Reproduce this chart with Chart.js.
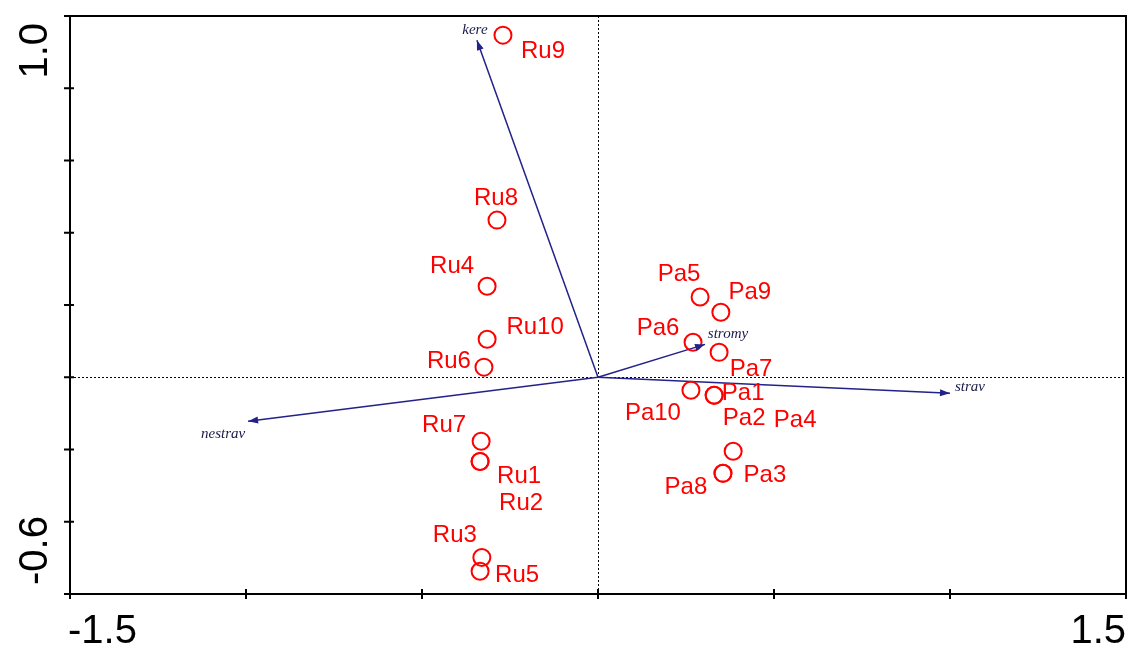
<!DOCTYPE html>
<html>
<head>
<meta charset="utf-8">
<script src="https://cdn.jsdelivr.net/npm/chart.js@4.4.1/dist/chart.umd.min.js"></script>
<style>
  html, body { margin: 0; padding: 0; background: #fff; }
  #chart { display: block; }
</style>
</head>
<body>
<canvas id="chart" width="1129" height="646"></canvas>
<script>
// ─── Data ────────────────────────────────────────────────────────────────────
const ruNames = ['Ru1', 'Ru2', 'Ru3', 'Ru4', 'Ru5', 'Ru6', 'Ru7', 'Ru8', 'Ru9', 'Ru10'];
const ruX     = [-0.335, -0.335, -0.330, -0.315, -0.335, -0.324, -0.332, -0.287, -0.270, -0.315];
const ruY     = [-0.233, -0.233, -0.499,  0.252, -0.537,  0.028, -0.177,  0.435,  0.947,  0.105];

const paNames = ['Pa1', 'Pa2', 'Pa3', 'Pa4', 'Pa5', 'Pa6', 'Pa7', 'Pa8', 'Pa9', 'Pa10'];
const paX     = [0.330, 0.330, 0.355, 0.384, 0.290, 0.270, 0.344, 0.355, 0.349, 0.264];
const paY     = [-0.050, -0.050, -0.266, -0.205, 0.222, 0.097, 0.069, -0.266, 0.180, -0.036];

const envNames = ['kere', 'stromy', 'strav', 'nestrav'];
const envX     = [-0.344, 0.304, 1.000, -0.994];
const envY     = [ 0.933, 0.091, -0.044, -0.122];

const xTickLabels = ['-1.5', '1.5'];
const yTickLabels = ['1.0', '-0.6'];

// label placement (pixel offsets from the marker, label centre)
const ruLabelOffsets  = [[39, 13], [41, 40], [-27, -24], [-35, -22], [37, 2], [-35, -8], [-37, -18], [-1, -24], [40, 14], [48, -14]];
const paLabelOffsets  = [[29, -4], [30, 21], [42, 0], [62, -33], [-21, -25], [-35, -16], [32, 15], [-37, 12], [29, -22], [-38, 21]];
const envLabelOffsets = [[-2, -10], [23, -10], [20, -6], [-25, 13]];

const RED  = '#ff0000';
const NAVY = '#22228a';

// ─── Datasets ────────────────────────────────────────────────────────────────
const toPoints = (xs, ys) => xs.map((x, i) => ({ x, y: ys[i] }));

const pointStyle = {
  pointStyle: 'circle',
  pointRadius: 8.5,
  pointBorderWidth: 2,
  pointBorderColor: RED,
  pointBackgroundColor: 'rgba(0,0,0,0)',
  showLine: false,
};

const datasets = [
  { label: 'Ru', data: toPoints(ruX, ruY), ...pointStyle },
  { label: 'Pa', data: toPoints(paX, paY), ...pointStyle },
  ...envNames.map((n, i) => ({
    label: n,
    data: [{ x: 0, y: 0 }, { x: envX[i], y: envY[i] }],
    showLine: true,
    borderColor: NAVY,
    borderWidth: 1.5,
    pointRadius: 0,
  })),
];

// ─── Decorations: frame, ticks, arrow heads, labels ──────────────────────────
const isZero = ctx => ctx.tick && Math.abs(ctx.tick.value) < 1e-9;

const ordination = {
  id: 'ordination',
  afterDraw(chart) {
    const { ctx, chartArea: a, scales: { x, y } } = chart;
    ctx.save();

    // arrow heads + environmental labels
    envNames.forEach((n, i) => {
      const x0 = x.getPixelForValue(0), y0 = y.getPixelForValue(0);
      const x1 = x.getPixelForValue(envX[i]), y1 = y.getPixelForValue(envY[i]);
      const ang = Math.atan2(y1 - y0, x1 - x0);
      const len = 10, hw = 3.5;
      ctx.fillStyle = NAVY;
      ctx.beginPath();
      ctx.moveTo(x1, y1);
      ctx.lineTo(x1 - len * Math.cos(ang) + hw * Math.sin(ang), y1 - len * Math.sin(ang) - hw * Math.cos(ang));
      ctx.lineTo(x1 - len * Math.cos(ang) - hw * Math.sin(ang), y1 - len * Math.sin(ang) + hw * Math.cos(ang));
      ctx.closePath();
      ctx.fill();

      ctx.fillStyle = '#1a1a48';
      ctx.font = 'italic 15px "Liberation Serif", serif';
      ctx.textAlign = 'center';
      ctx.textBaseline = 'middle';
      ctx.fillText(n, x1 + envLabelOffsets[i][0], y1 + envLabelOffsets[i][1]);
    });

    // sample labels
    ctx.fillStyle = RED;
    ctx.font = '24px "Liberation Sans", Arial, sans-serif';
    ctx.textAlign = 'center';
    ctx.textBaseline = 'alphabetic';
    const drawNames = (names, xs, ys, offs) => names.forEach((n, i) => {
      const px = x.getPixelForValue(xs[i]), py = y.getPixelForValue(ys[i]);
      ctx.fillText(n, px + offs[i][0], py + offs[i][1] + 8.5);
    });
    drawNames(ruNames, ruX, ruY, ruLabelOffsets);
    drawNames(paNames, paX, paY, paLabelOffsets);

    // frame
    ctx.strokeStyle = '#000';
    ctx.lineWidth = 2;
    ctx.strokeRect(a.left, a.top, a.right - a.left, a.bottom - a.top);

    // crossing tick marks on left and bottom
    ctx.lineWidth = 2;
    ctx.beginPath();
    x.ticks.forEach(t => {
      const px = x.getPixelForValue(t.value);
      ctx.moveTo(px, a.bottom - 5);
      ctx.lineTo(px, a.bottom + 5);
    });
    y.ticks.forEach(t => {
      const py = y.getPixelForValue(t.value);
      ctx.moveTo(a.left - 6, py);
      ctx.lineTo(a.left + 4, py);
    });
    ctx.stroke();

    // axis end labels
    ctx.fillStyle = '#000';
    ctx.font = '40px "Liberation Sans", Arial, sans-serif';
    ctx.textBaseline = 'alphabetic';
    ctx.textAlign = 'left';
    ctx.fillText(xTickLabels[0], a.left - 2, a.bottom + 49);
    ctx.textAlign = 'right';
    ctx.fillText(xTickLabels[1], a.right, a.bottom + 49);

    ctx.save();
    ctx.translate(47, y.getPixelForValue(1.0) + 7);
    ctx.rotate(-Math.PI / 2);
    ctx.textAlign = 'right';
    ctx.fillText(yTickLabels[0], 0, 0);
    ctx.restore();

    ctx.save();
    ctx.translate(47, y.getPixelForValue(-0.6) - 9);
    ctx.rotate(-Math.PI / 2);
    ctx.textAlign = 'left';
    ctx.fillText(yTickLabels[1], 0, 0);
    ctx.restore();

    ctx.restore();
  },
};

// ─── Chart ───────────────────────────────────────────────────────────────────
const zeroGrid = {
  drawTicks: false,
  lineWidth: 1,
  color: c => isZero(c) ? '#000' : 'rgba(0,0,0,0)',
};

new Chart(document.getElementById('chart').getContext('2d'), {
  type: 'scatter',
  data: { datasets },
  options: {
    responsive: false,
    animation: false,
    events: [],
    layout: { autoPadding: false, padding: { top: 16, right: 3, left: 0, bottom: 0 } },
    plugins: { legend: { display: false }, tooltip: { enabled: false } },
    scales: {
      x: {
        type: 'linear', min: -1.5, max: 1.5,
        ticks: { display: false, stepSize: 0.5 },
        grid: zeroGrid,
        border: { display: false, dash: [2, 2] },
        afterFit: s => { s.height = 52; },
      },
      y: {
        type: 'linear', min: -0.6, max: 1.0,
        ticks: { display: false, stepSize: 0.2 },
        grid: zeroGrid,
        border: { display: false, dash: [2, 2] },
        afterFit: s => { s.width = 70; },
      },
    },
  },
  plugins: [ordination],
});
</script>
</body>
</html>
